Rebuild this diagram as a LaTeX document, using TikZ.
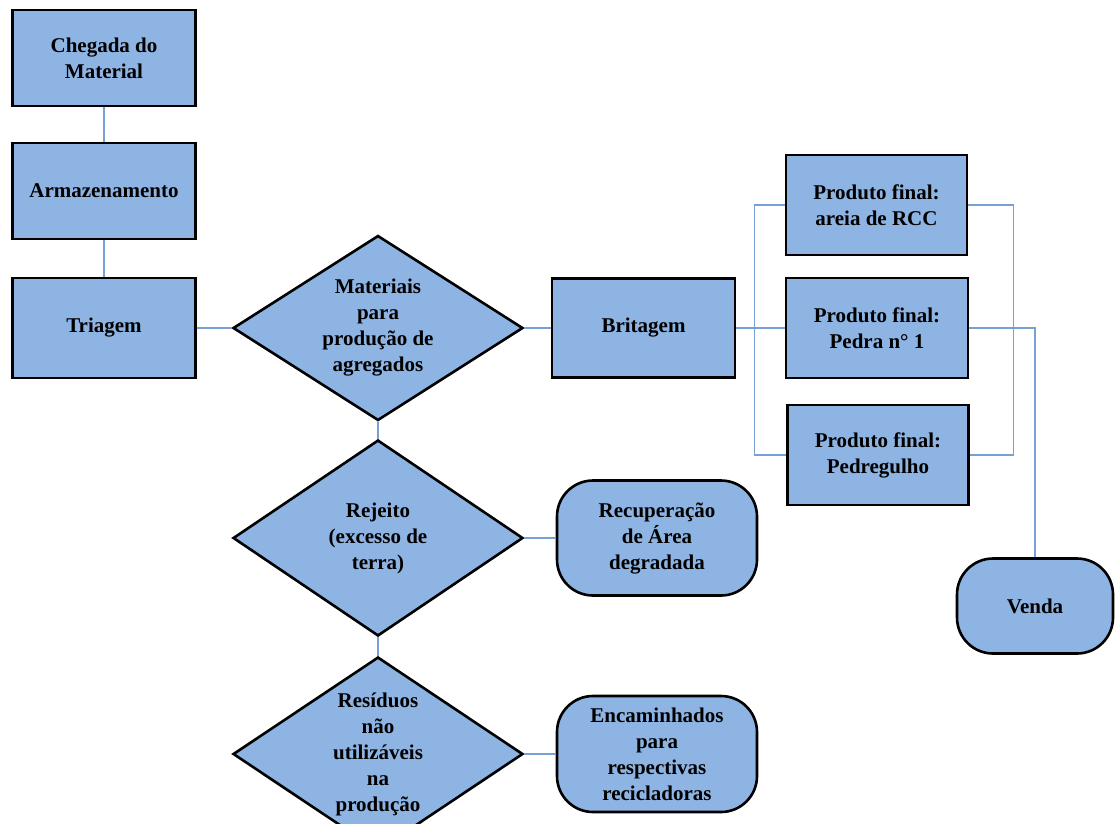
\documentclass[tikz,border=0pt]{standalone}
\usepackage{fontspec}
\setmainfont{Liberation Serif}
\usetikzlibrary{shapes.geometric}
\definecolor{boxfill}{RGB}{142,180,227}
\definecolor{linkcol}{RGB}{120,160,215}
\tikzset{
  txt/.style={font=\bfseries\fontsize{21}{26}\selectfont, align=center, text=black},
  box/.style={draw=black, line width=2.6pt, fill=boxfill, rectangle, inner sep=0pt, txt},
  rbox/.style={box, rounded corners=36pt},
  dia/.style={draw=black, line width=2.6pt, fill=boxfill, diamond, inner sep=0pt},
  link/.style={draw=linkcol, line width=1.5pt}
}
\begin{document}
\begin{tikzpicture}[x=1pt,y=-1pt]
\useasboundingbox (0,0) rectangle (1115,823);
\clip (0,0) rectangle (1115,823);
% boxes
\node[box, minimum width=183pt, minimum height=96pt] (che) at (104,58) {Chegada do\\Material};
\node[box, minimum width=183pt, minimum height=96pt] (arm) at (104,191) {Armazenamento};
\node[box, minimum width=183pt, minimum height=100pt] (tri) at (104,328) {Triagem};
\node[box, minimum width=183pt, minimum height=99pt] (bri) at (643.5,328) {Britagem};
\node[box, minimum width=181pt, minimum height=100pt] (are) at (876.5,205) {Produto final:\\areia de RCC};
\node[box, minimum width=182pt, minimum height=100pt] (ped) at (877,328) {Produto final:\\Pedra n° 1};
\node[box, minimum width=181pt, minimum height=100pt] (pgl) at (878,455) {Produto final:\\Pedregulho};
\node[rbox, minimum width=200pt, minimum height=115pt] (rec) at (657,538) {Recuperação\\de Área\\degradada};
\node[rbox, minimum width=200pt, minimum height=116pt] (enc) at (657,754) {Encaminhados\\para\\respectivas\\recicladoras};
\node[rbox, minimum width=156pt, minimum height=95pt] (ven) at (1035,606) {Venda};
% diamonds
\node[dia, minimum width=290pt, minimum height=185pt,
  label={[txt]center:Materiais\\para\\produção de\\agregados}] (d1) at (378,328) {};
\node[dia, minimum width=290pt, minimum height=196pt,
  label={[txt]center:Rejeito\\(excesso de\\terra)}] (d2) at (378,538) {};
\node[dia, minimum width=290pt, minimum height=194pt,
  label={[txt]center:Resíduos\\não\\utilizáveis\\na\\produção}] (d3) at (378,754) {};
% connectors
\draw[link] (che.south) -- (arm.north);
\draw[link] (arm.south) -- (tri.north);
\draw[link] (tri.east) -- (d1.west);
\draw[link] (d1.east) -- (bri.west);
\draw[link] (bri.east) -- (ped.west);
\draw[link] (d1.south) -- (d2.north);
\draw[link] (d2.south) -- (d3.north);
\draw[link] (d2.east) -- (rec.west);
\draw[link] (d3.east) -- (enc.west);
\draw[link] (are.west) -- ++(-30,0) |- (pgl.west);
\draw[link] (are.east) -- ++(45,0) |- (pgl.east);
\draw[link] (ped.east) -| (ven.north);
\end{tikzpicture}
\end{document}
